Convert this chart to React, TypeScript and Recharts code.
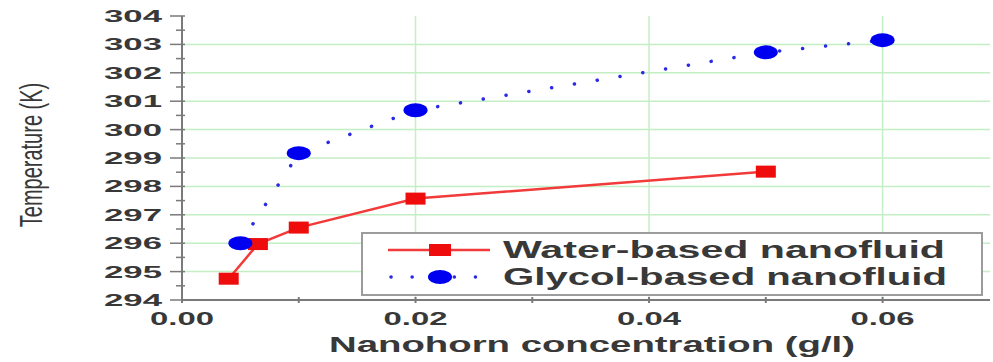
import React from "react";
import {
  ComposedChart,
  Line,
  XAxis,
  YAxis,
  CartesianGrid,
  Legend,
} from "recharts";

// concentration (g/l) and temperature (K)
const waterConc = [0.004, 0.0065, 0.01, 0.02, 0.05];
const waterTemp = [294.75, 295.97, 296.55, 297.57, 298.52];
const glycolConc = [0.005, 0.01, 0.02, 0.05, 0.06];
const glycolTemp = [296.0, 299.17, 300.68, 302.72, 303.15];

const xTicks = [0, 0.01, 0.02, 0.03, 0.04, 0.05, 0.06];
const xLabels = [0, 0.02, 0.04, 0.06];
const yMajor = [294, 295, 296, 297, 298, 299, 300, 301, 302, 303, 304];
const yTicks = yMajor.flatMap((v, i) => (i < yMajor.length - 1 ? [v, v + 0.5] : [v]));
const gridY = [295, 296, 297, 298, 299, 300, 301, 302, 303];
const gridX = [0.02, 0.04, 0.06];

const waterData = waterConc.map((c, i) => ({ c, t: waterTemp[i] }));
const glycolData = glycolConc.map((c, i) => ({ c, t: glycolTemp[i] }));

const RED = "#f23a3a";
const RED_MARK = "#ee0c0c";
const BLUE = "#2a2ae6";
const BLUE_MARK = "#0000f0";
const AXIS = "#7a7a7a";
const TEXT = "#383838";
const FONT = "'Liberation Sans', Arial, sans-serif";

const LeftTick = (props: any) => {
  const { x, y, payload } = props;
  const major = Number.isInteger(payload.value);
  return (
    <g>
      <line x1={major ? x - 12 : x - 6} x2={x + 3} y1={y} y2={y} stroke={AXIS} strokeWidth={1.5} />
      {major && (
        <text
          x={x - 78}
          y={y + 6}
          fontSize={17}
          fontWeight="bold"
          fontFamily={FONT}
          fill={TEXT}
          textLength={58}
          lengthAdjust="spacingAndGlyphs"
        >
          {payload.value}
        </text>
      )}
    </g>
  );
};

const RightTick = (props: any) => {
  const { x, y } = props;
  return <line x1={x - 5} x2={x} y1={y} y2={y} stroke={AXIS} strokeWidth={1.5} />;
};

const BottomTick = (props: any) => {
  const { x, y, payload } = props;
  const labelled = xLabels.some((v) => Math.abs(v - payload.value) < 1e-9);
  return (
    <g>
      <line x1={x} x2={x} y1={y - 3} y2={y + 3} stroke={AXIS} strokeWidth={2} />
      {labelled && (
        <text
          x={x - 32}
          y={y + 25}
          fontSize={18}
          fontWeight="bold"
          fontFamily={FONT}
          fill={TEXT}
          textLength={64}
          lengthAdjust="spacingAndGlyphs"
        >
          {payload.value.toFixed(2)}
        </text>
      )}
    </g>
  );
};

const TopTick = (props: any) => {
  const { x, y } = props;
  return <line x1={x} x2={x} y1={y - 3} y2={y + 3} stroke={AXIS} strokeWidth={2} />;
};

const XTitle = (props: any) => {
  const { viewBox } = props;
  const cx = viewBox.x + viewBox.width / 2 + 6;
  return (
    <text
      x={cx}
      y={352}
      textAnchor="middle"
      fontSize={22}
      fontWeight="bold"
      fontFamily={FONT}
      fill={TEXT}
      textLength={526}
      lengthAdjust="spacingAndGlyphs"
    >
      Nanohorn concentration (g/l)
    </text>
  );
};

const YTitle = (props: any) => {
  const { viewBox } = props;
  const cy = viewBox.y + viewBox.height / 2 - 3;
  return (
    <text
      transform={`translate(42, ${cy}) rotate(-90) scale(1, 1.6)`}
      textAnchor="middle"
      fontSize={20}
      fontFamily={FONT}
      fill={TEXT}
    >
      Temperature (K)
    </text>
  );
};

const RedSquare = (props: any) => {
  const { cx, cy, index } = props;
  return <rect key={`w${index}`} x={cx - 10} y={cy - 6} width={20} height={12} fill={RED_MARK} />;
};

const BlueOval = (props: any) => {
  const { cx, cy, index } = props;
  return <ellipse key={`g${index}`} cx={cx} cy={cy} rx={12} ry={7} fill={BLUE_MARK} />;
};

const renderLegend = () => (
  <svg width={624} height={64} style={{ display: "block" }}>
    <rect x={1} y={1} width={620} height={62} fill="#fff" stroke="#9c9c9c" strokeWidth={2} />
    <line x1={27} x2={129} y1={18} y2={18} stroke={RED} strokeWidth={2.5} />
    <rect x={68} y={12} width={22} height={12} fill={RED_MARK} />
    <text
      x={142}
      y={26}
      fontSize={23}
      fontWeight="bold"
      fontFamily={FONT}
      fill={TEXT}
      textLength={442}
      lengthAdjust="spacingAndGlyphs"
    >
      Water-based nanofluid
    </text>
    <line
      x1={30}
      x2={130}
      y1={45}
      y2={45}
      stroke={BLUE}
      strokeWidth={3.5}
      strokeLinecap="round"
      strokeDasharray="0.1 21"
    />
    <ellipse cx={79} cy={45} rx={12} ry={7} fill={BLUE_MARK} />
    <text
      x={142}
      y={53}
      fontSize={23}
      fontWeight="bold"
      fontFamily={FONT}
      fill={TEXT}
      textLength={444}
      lengthAdjust="spacingAndGlyphs"
    >
      Glycol-based nanofluid
    </text>
  </svg>
);

export default function App() {
  return (
    <div style={{ position: "absolute", left: 0, top: 0, width: 993, height: 362, background: "#fff" }}>
      <ComposedChart width={993} height={362} margin={{ top: 16, right: 3, bottom: 12, left: 12 }}>
        <CartesianGrid
          horizontalValues={gridY}
          verticalValues={gridX}
          stroke="#c4eec4"
          strokeWidth={1.5}
        />
        <XAxis
          dataKey="c"
          type="number"
          domain={[0, 0.0692]}
          ticks={xTicks}
          allowDataOverflow
          height={50}
          axisLine={{ stroke: AXIS, strokeWidth: 2 }}
          tickLine={false}
          tickSize={0}
          tickMargin={0}
          tick={<BottomTick />}
          label={<XTitle />}
        />
        <XAxis
          xAxisId="top"
          orientation="top"
          type="number"
          domain={[0, 0.0692]}
          ticks={xTicks}
          allowDataOverflow
          height={0}
          axisLine={{ stroke: AXIS, strokeWidth: 2 }}
          tickLine={false}
          tickSize={0}
          tickMargin={0}
          tick={<TopTick />}
        />
        <YAxis
          type="number"
          domain={[294, 304]}
          ticks={yTicks}
          interval={0}
          width={170}
          axisLine={{ stroke: AXIS, strokeWidth: 2 }}
          tickLine={false}
          tickSize={0}
          tickMargin={0}
          tick={<LeftTick />}
          label={<YTitle />}
        />
        <YAxis
          yAxisId="right"
          orientation="right"
          type="number"
          domain={[294, 304]}
          ticks={yTicks}
          interval={0}
          width={0}
          axisLine={{ stroke: AXIS, strokeWidth: 2 }}
          tickLine={false}
          tickSize={0}
          tickMargin={0}
          tick={<RightTick />}
        />
        <Line
          data={waterData}
          dataKey="t"
          stroke={RED}
          strokeWidth={2.5}
          dot={RedSquare}
          activeDot={false}
          isAnimationActive={false}
          legendType="none"
        />
        <Line
          data={glycolData}
          dataKey="t"
          stroke={BLUE}
          strokeWidth={3.5}
          strokeLinecap="round"
          strokeDasharray="0.1 23"
          dot={BlueOval}
          activeDot={false}
          isAnimationActive={false}
          legendType="none"
        />
        <Legend
          layout="horizontal"
          verticalAlign="middle"
          align="center"
          content={renderLegend}
          wrapperStyle={{ left: 361, top: 232, width: 624, height: 64 }}
        />
      </ComposedChart>
    </div>
  );
}
